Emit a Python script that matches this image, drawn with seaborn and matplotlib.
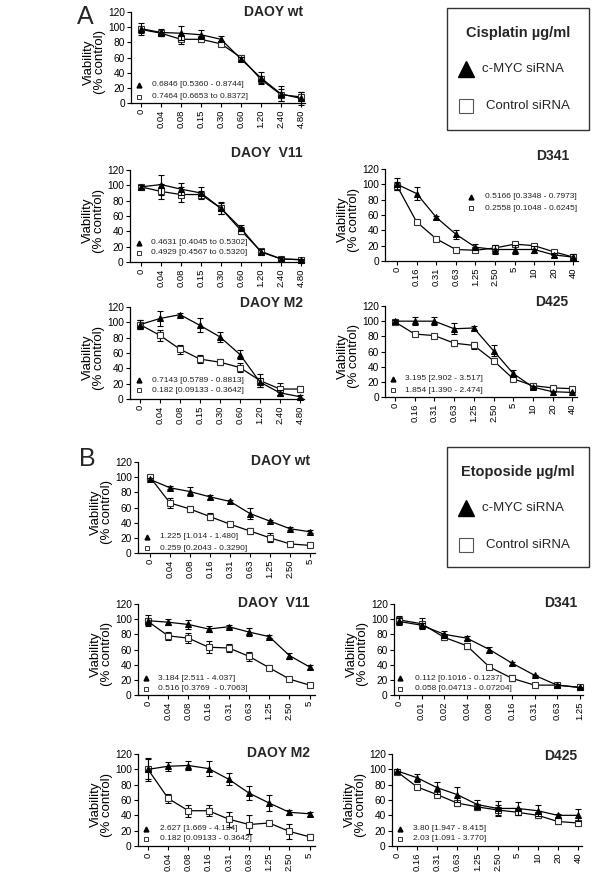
import numpy as np
import pandas as pd
import seaborn as sns
import matplotlib.pyplot as plt
from matplotlib.patches import Rectangle

sns.set_theme(style="ticks")
plt.rcParams['font.family'] = ['Liberation Sans', 'DejaVu Sans']

W, H = 600, 875

# dose labels (x axis categories)
cis_daoy = ["0", "0.04", "0.08", "0.15", "0.30", "0.60", "1.20", "2.40", "4.80"]
cis_d = ["0", "0.16", "0.31", "0.63", "1.25", "2.50", "5", "10", "20", "40"]
eto_daoy = ["0", "0.04", "0.08", "0.16", "0.31", "0.63", "1.25", "2.50", "5"]
eto_d341 = ["0", "0.01", "0.02", "0.04", "0.08", "0.16", "0.31", "0.63", "1.25"]
eto_d425 = ["0", "0.16", "0.31", "0.63", "1.25", "2.50", "5", "10", "20", "40"]

# A: cisplatin, viability (% control), mean and error
a_wt_myc = [98, 93, 92, 90, 84, 58, 33, 12, 6]
a_wt_myc_err = [8, 5, 9, 6, 4, 3, 8, 10, 8]
a_wt_ctrl = [97, 92, 84, 84, 78, 60, 31, 11, 8]
a_wt_ctrl_err = [5, 3, 6, 3, 2, 3, 5, 8, 6]

a_v11_myc = [98, 101, 95, 90, 70, 44, 13, 4, 3]
a_v11_myc_err = [3, 13, 8, 8, 7, 4, 4, 2, 1]
a_v11_ctrl = [98, 92, 88, 88, 70, 41, 14, 4, 3]
a_v11_ctrl_err = [3, 10, 10, 4, 8, 5, 3, 2, 1]

a_d341_myc = [100, 88, 57, 35, 18, 15, 15, 15, 8, 5]
a_d341_myc_err = [8, 8, 2, 6, 4, 6, 6, 5, 3, 4]
a_d341_ctrl = [98, 51, 29, 15, 14, 17, 22, 20, 12, 5]
a_d341_ctrl_err = [5, 1, 1, 1, 2, 2, 2, 2, 2, 3]

a_m2_myc = [97, 105, 110, 96, 81, 58, 22, 8, 3]
a_m2_myc_err = [6, 10, 2, 9, 7, 6, 6, 4, 2]
a_m2_ctrl = [97, 83, 65, 52, 48, 41, 24, 13, 13]
a_m2_ctrl_err = [6, 7, 6, 5, 4, 6, 8, 8, 4]

a_d425_myc = [100, 100, 100, 90, 91, 61, 31, 13, 7, 6]
a_d425_myc_err = [2, 5, 5, 7, 2, 7, 5, 2, 1, 1]
a_d425_ctrl = [99, 83, 81, 71, 68, 48, 24, 15, 12, 11]
a_d425_ctrl_err = [2, 1, 1, 4, 5, 3, 2, 2, 1, 1]

# B: etoposide
b_wt_myc = [97, 86, 81, 74, 68, 52, 42, 32, 28]
b_wt_myc_err = [2, 2, 6, 3, 2, 7, 1, 2, 2]
b_wt_ctrl = [100, 66, 58, 48, 38, 29, 20, 12, 10]
b_wt_ctrl_err = [3, 7, 4, 5, 2, 4, 6, 3, 2]

b_v11_myc = [98, 96, 93, 87, 90, 83, 77, 52, 37]
b_v11_myc_err = [7, 4, 6, 4, 2, 5, 2, 4, 3]
b_v11_ctrl = [97, 78, 75, 63, 62, 51, 36, 21, 13]
b_v11_ctrl_err = [5, 5, 7, 8, 5, 6, 3, 2, 2]

b_d341_myc = [97, 92, 80, 75, 60, 42, 26, 13, 10]
b_d341_myc_err = [5, 3, 5, 3, 3, 2, 1, 2, 1]
b_d341_ctrl = [99, 94, 76, 65, 37, 22, 13, 13, 10]
b_d341_ctrl_err = [5, 7, 3, 4, 2, 4, 1, 1, 1]

b_m2_myc = [100, 104, 105, 101, 87, 69, 56, 44, 42]
b_m2_myc_err = [15, 6, 6, 10, 8, 9, 10, 3, 3]
b_m2_ctrl = [100, 62, 46, 46, 35, 28, 30, 19, 12]
b_m2_ctrl_err = [13, 6, 8, 7, 10, 12, 2, 10, 4]

b_d425_myc = [98, 89, 76, 67, 54, 49, 49, 46, 40, 40]
b_d425_myc_err = [2, 5, 8, 10, 6, 10, 8, 7, 2, 8]
b_d425_ctrl = [97, 77, 67, 56, 51, 47, 44, 40, 32, 30]
b_d425_ctrl_err = [2, 2, 3, 4, 4, 7, 4, 3, 3, 4]

# IC50 [95% CI] texts
ic50 = {
    "a_wt": ["0.6846 [0.5360 - 0.8744]", "0.7464 [0.6653 to 0.8372]"],
    "a_v11": ["0.4631 [0.4045 to 0.5302]", "0.4929 [0.4567 to 0.5320]"],
    "a_d341": ["0.5166 [0.3348 - 0.7973]", "0.2558 [0.1048 - 0.6245]"],
    "a_m2": ["0.7143 [0.5789 - 0.8813]", "0.182 [0.09133 - 0.3642]"],
    "a_d425": ["3.195 [2.902 - 3.517]", "1.854 [1.390 - 2.474]"],
    "b_wt": ["1.225 [1.014 - 1.480]", "0.259 [0.2043 - 0.3290]"],
    "b_v11": ["3.184 [2.511 - 4.037]", "0.516 [0.3769  - 0.7063]"],
    "b_d341": ["0.112 [0.1016 - 0.1237]", "0.058 [0.04713 - 0.07204]"],
    "b_m2": ["2.627 [1.669 - 4.134]", "0.182 [0.09133 - 0.3642]"],
    "b_d425": ["3.80 [1.947 - 8.415]", "2.03 [1.091 - 3.770]"],
}

# layout in pixels: left, right, first tick, tick spacing, y0, y120,
# title (right x, baseline y), ic50 block (marker x, text x, y1, y2)
panels = [
    ("DAOY wt", cis_daoy, a_wt_myc, a_wt_myc_err, a_wt_ctrl, a_wt_ctrl_err, "a_wt",
     (131, 305, 141, 20, 103, 12), (303, 16), (139, 152, 85, 97)),
    ("DAOY  V11", cis_daoy, a_v11_myc, a_v11_myc_err, a_v11_ctrl, a_v11_ctrl_err, "a_v11",
     (130, 304, 141, 20, 262, 170), (303, 157), (139, 151, 243, 253)),
    ("D341", cis_d, a_d341_myc, a_d341_myc_err, a_d341_ctrl, a_d341_ctrl_err, "a_d341",
     (385, 578, 397, 19.6, 261, 169), (569, 160), (471, 485, 197, 208)),
    ("DAOY M2", cis_daoy, a_m2_myc, a_m2_myc_err, a_m2_ctrl, a_m2_ctrl_err, "a_m2",
     (130, 304, 140, 20, 399, 307), (303, 307), (139, 152, 380, 390)),
    ("D425", cis_d, a_d425_myc, a_d425_myc_err, a_d425_ctrl, a_d425_ctrl_err, "a_d425",
     (385, 577, 395, 19.7, 397, 306), (568, 306), (393, 405, 379, 390)),
    ("DAOY wt", eto_daoy, b_wt_myc, b_wt_myc_err, b_wt_ctrl, b_wt_ctrl_err, "b_wt",
     (138, 315, 150, 20, 553, 462), (310, 465), (147, 160, 537, 548)),
    ("DAOY  V11", eto_daoy, b_v11_myc, b_v11_myc_err, b_v11_ctrl, b_v11_ctrl_err, "b_v11",
     (138, 315, 148, 20.2, 695, 604), (310, 607), (146, 158, 678, 689)),
    ("D341", eto_d341, b_d341_myc, b_d341_myc_err, b_d341_ctrl, b_d341_ctrl_err, "b_d341",
     (394, 583, 399, 22.6, 695, 604), (577, 607), (400, 415, 678, 689)),
    ("DAOY M2", eto_daoy, b_m2_myc, b_m2_myc_err, b_m2_ctrl, b_m2_ctrl_err, "b_m2",
     (138, 315, 148, 20.2, 846, 754), (310, 757), (146, 160, 829, 839)),
    ("D425", eto_d425, b_d425_myc, b_d425_myc_err, b_d425_ctrl, b_d425_ctrl_err, "b_d425",
     (392, 582, 397, 20.1, 846, 754), (577, 760), (400, 413, 829, 839)),
]

fig = plt.figure(figsize=(W / 100, H / 100), dpi=100)

for title, doses, myc, myc_err, ctrl, ctrl_err, key, geo, tpos, apos in panels:
    left, right, f, s, y0, y120 = geo
    ax = fig.add_axes([left / W, 1 - y0 / H, (right - left) / W, (y0 - y120) / H])
    x = np.arange(len(doses))
    df = pd.DataFrame({"x": x, "myc": myc, "ctrl": ctrl})

    ax.errorbar(x, ctrl, yerr=ctrl_err, fmt="none", ecolor="black", elinewidth=0.8,
                capsize=2, capthick=0.8, clip_on=False, zorder=2)
    sns.lineplot(data=df, x="x", y="ctrl", ax=ax, color="black", lw=0.9,
                 marker="s", markersize=4.5, markerfacecolor="white",
                 markeredgecolor="#333333", markeredgewidth=0.8, clip_on=False, zorder=3)
    ax.errorbar(x, myc, yerr=myc_err, fmt="none", ecolor="black", elinewidth=0.8,
                capsize=2, capthick=0.8, clip_on=False, zorder=4)
    sns.lineplot(data=df, x="x", y="myc", ax=ax, color="black", lw=0.9,
                 marker="^", markersize=5, markerfacecolor="black",
                 markeredgecolor="black", clip_on=False, zorder=5)

    ax.set_xlim(-(f - left) / s, (right - f) / s)
    ax.set_ylim(0, 120)
    ax.set_xticks(x)
    ax.set_xticklabels(doses, rotation=90, fontsize=6.8)
    ax.set_yticks(range(0, 121, 20))
    ax.tick_params(axis="y", labelsize=7.3, length=3, width=0.8, pad=1.5, colors="black")
    ax.tick_params(axis="x", length=3, width=0.8, pad=1.5, colors="black")
    ax.set_xlabel("")
    ax.set_ylabel("Viability\n(% control)", fontsize=9.5, color="black", linespacing=0.95)
    ax.yaxis.set_label_coords(-25 / (right - left), 0.45)
    sns.despine(ax=ax)
    for sp in ["left", "bottom"]:
        ax.spines[sp].set_color("black")
        ax.spines[sp].set_linewidth(0.9)
    ax.patch.set_alpha(0)

    fig.text(tpos[0] / W, 1 - tpos[1] / H, title, ha="right", va="baseline",
             fontsize=10, fontweight="bold")

    mx, tx, ya, yb = apos
    lines = ic50[key]
    fig.text(tx / W, 1 - ya / H, lines[0], ha="left", va="center", fontsize=6, color="#222222")
    fig.text(tx / W, 1 - yb / H, lines[1], ha="left", va="center", fontsize=6, color="#222222")
    fig.lines.append(plt.Line2D([mx / W], [1 - ya / H], marker="^", ms=3.5, color="black",
                                transform=fig.transFigure, lw=0))
    fig.lines.append(plt.Line2D([mx / W], [1 - yb / H], marker="s", ms=3.5, mfc="white",
                                mec="#333333", mew=0.7, transform=fig.transFigure, lw=0))

# overlay for panel letters and legend boxes (pixel coordinates)
ov = fig.add_axes([0, 0, 1, 1])
ov.set_xlim(0, W)
ov.set_ylim(H, 0)
ov.axis("off")
ov.patch.set_alpha(0)

ov.text(77, 24, "A", fontsize=18, ha="left", va="baseline")
ov.text(79, 466, "B", fontsize=18, ha="left", va="baseline")

for top, bottom, drug in [(8, 130, "Cisplatin µg/ml"), (447, 567, "Etoposide µg/ml")]:
    ov.add_patch(Rectangle((447, top), 142, bottom - top, fill=False, ec="#333333", lw=1))
    ov.text(518, top + 25, drug, ha="center", va="center", fontsize=10.5, fontweight="bold")
    ov.plot([466], [top + 61], marker="^", ms=11, color="black", lw=0)
    ov.text(482, top + 61, "c-MYC siRNA", ha="left", va="center", fontsize=9.5)
    ov.plot([466], [top + 98], marker="s", ms=10, mfc="white", mec="#555555", mew=0.8, lw=0)
    ov.text(486, top + 98, "Control siRNA", ha="left", va="center", fontsize=9.5)

fig.savefig("out.png", dpi=100)
